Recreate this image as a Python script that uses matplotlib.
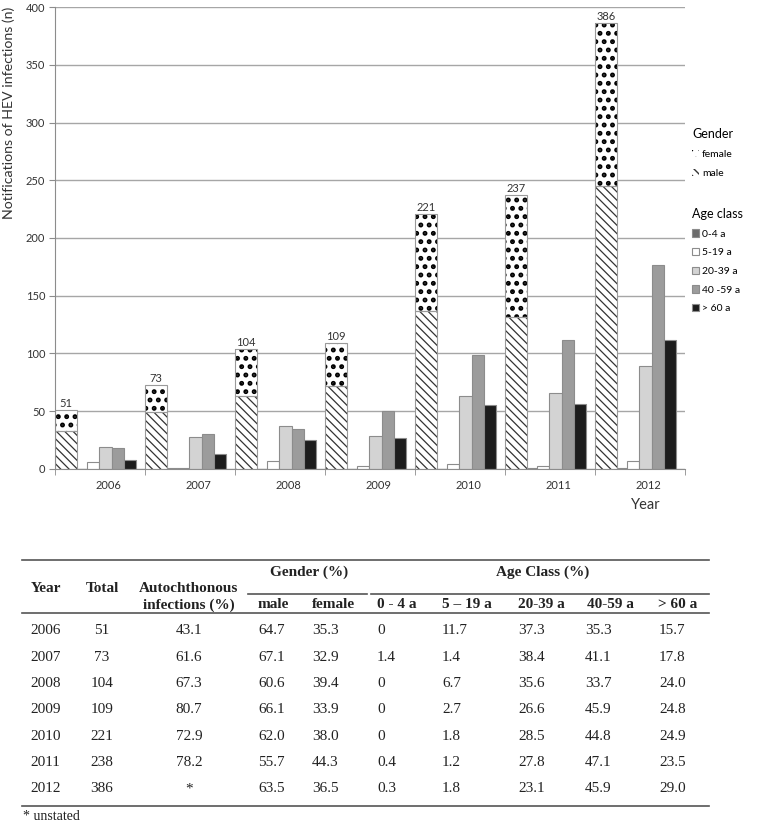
import numpy as np
import matplotlib.pyplot as plt

plt.rcParams['font.family'] = ['Lato', 'DejaVu Sans']

# chart data
years = ['2006', '2007', '2008', '2009', '2010', '2011', '2012']
male = [33, 49, 63, 72, 137, 132, 245]
female = [18, 24, 41, 37, 84, 105, 141]
age_labels = ['0-4 a', '5-19 a', '20-39 a', '40 -59 a', '> 60 a']
age_0_4 = [0, 1, 0, 0, 0, 1, 1]
age_5_19 = [6, 1, 7, 3, 4, 3, 7]
age_20_39 = [19, 28, 37, 29, 63, 66, 89]
age_40_59 = [18, 30, 35, 50, 99, 112, 177]
age_60 = [8, 13, 25, 27, 55, 56, 112]
age_colors = ['#6b6b6b', '#ffffff', '#d3d3d3', '#9c9c9c', '#1c1c1c']

# table data
tab_total = ['51', '73', '104', '109', '221', '238', '386']
tab_auto = ['43.1', '61.6', '67.3', '80.7', '72.9', '78.2', '*']
tab_male = ['64.7', '67.1', '60.6', '66.1', '62.0', '55.7', '63.5']
tab_female = ['35.3', '32.9', '39.4', '33.9', '38.0', '44.3', '36.5']
tab_a04 = ['0', '1.4', '0', '0', '0', '0.4', '0.3']
tab_a519 = ['11.7', '1.4', '6.7', '2.7', '1.8', '1.2', '1.8']
tab_a2039 = ['37.3', '38.4', '35.6', '26.6', '28.5', '27.8', '23.1']
tab_a4059 = ['35.3', '41.1', '33.7', '45.9', '44.8', '47.1', '45.9']
tab_a60 = ['15.7', '17.8', '24.0', '24.8', '24.9', '23.5', '29.0']

W, H = 757, 835
fig = plt.figure(figsize=(W / 100, H / 100), dpi=100)
ax = fig.add_axes([55 / W, 1 - 469 / H, 630 / W, 462 / H])
x = np.arange(len(years))

ax.set_xlim(0, 7)
ax.set_ylim(0, 400)
ax.set_yticks(range(0, 401, 50))
ax.grid(axis='y', color='#a6a6a6', lw=1)
ax.set_axisbelow(True)

# age class bars
age_series = [age_0_4, age_5_19, age_20_39, age_40_59, age_60]
age_bars = []
for k, vals in enumerate(age_series):
    b = ax.bar(x + 0.223 + k * 0.135, vals, width=0.135, align='edge',
               color=age_colors[k], edgecolor='#8c8c8c', lw=0.8,
               label=age_labels[k])
    age_bars.append(b)

# gender stacked bar (hatch drawn first, then grey outline)
with plt.rc_context({'hatch.linewidth': 0.9}):
    hm = ax.bar(x, male, 0.24, align='edge', color='white', edgecolor='#333333',
                lw=0, hatch='\\\\\\\\', label='male')
with plt.rc_context({'hatch.linewidth': 2.3}):
    hf = ax.bar(x, female, 0.24, bottom=male, align='edge', color='white',
                edgecolor='black', lw=0, hatch='..', label='female')
ax.bar(x, male, 0.24, align='edge', fill=False, edgecolor='#9a9a9a', lw=0.8)
ax.bar(x, female, 0.24, bottom=male, align='edge', fill=False,
       edgecolor='#9a9a9a', lw=0.8)

totals = np.array(male) + np.array(female)
for xi, t in zip(x, totals):
    ax.text(xi + 0.12, t + 1, str(t), ha='center', va='bottom',
            fontsize=8, color='#333333')

ax.set_xticks(x + 0.594)
ax.set_xticklabels(years)
ax.set_xticks(np.arange(8), minor=True)
ax.tick_params(axis='x', which='major', length=0, pad=8, labelsize=8,
               labelcolor='#333333')
ax.tick_params(axis='x', which='minor', length=4, color='#8c8c8c')
ax.tick_params(axis='y', length=4, color='#8c8c8c', labelsize=8, pad=3,
               labelcolor='#333333')
for s in ['top', 'right']:
    ax.spines[s].set_visible(False)
for s in ['left', 'bottom']:
    ax.spines[s].set_color('#8c8c8c')

ax.set_ylabel('Notifications of HEV infections (n)', fontsize=10.2,
              color='#333333', loc='top', labelpad=8)
ax.set_xlabel('Year', fontsize=10.5, color='#333333')
ax.xaxis.set_label_coords(0.938, -0.062)

leg1 = ax.legend(handles=[hf, hm], labels=['female', 'male'], title='Gender',
                 loc='upper left', bbox_to_anchor=(692 / W, 1 - 128 / H),
                 bbox_transform=fig.transFigure, frameon=False, fontsize=7.5,
                 title_fontsize=9, alignment='left', handlelength=0.7,
                 handleheight=0.7, handletextpad=0.25, labelspacing=0.95,
                 borderpad=0, borderaxespad=0)
ax.add_artist(leg1)
ax.legend(handles=age_bars, labels=age_labels, title='Age class',
          loc='upper left', bbox_to_anchor=(692 / W, 1 - 208 / H),
          bbox_transform=fig.transFigure, frameon=False, fontsize=7.5,
          title_fontsize=9, alignment='left', handlelength=0.7,
          handleheight=0.7, handletextpad=0.25, labelspacing=0.9,
          borderpad=0, borderaxespad=0)

# table below the chart, drawn in pixel coordinates
tx = fig.add_axes([0, 0, 1, 1])
tx.set_xlim(0, W)
tx.set_ylim(H, 0)
tx.axis('off')
serif = 'Liberation Serif'
fs = 11
rule = dict(color='#555555', lw=1.2)
tx.plot([22, 709], [560, 560], **rule)
tx.plot([248, 367], [594, 594], **rule)
tx.plot([371, 709], [594, 594], **rule)
tx.plot([22, 709], [613, 613], **rule)
tx.plot([22, 709], [806, 806], **rule)

hdr = dict(family=serif, fontsize=fs, fontweight='bold', color='#222222', va='center')
tx.text(31, 588, 'Year', ha='left', **hdr)
tx.text(102, 588, 'Total', ha='center', **hdr)
tx.text(189, 588, 'Autochthonous', ha='center', **hdr)
tx.text(189, 605, 'infections (%)', ha='center', **hdr)
tx.text(309, 572, 'Gender (%)', ha='center', **hdr)
tx.text(543, 572, 'Age Class (%)', ha='center', **hdr)
sub_x = [258, 312, 377, 442, 518, 587, 658]
sub_lab = ['male', 'female', '0 - 4 a', '5 \u2013 19 a', '20-39 a', '40-59 a', '> 60 a']
for sx, sl in zip(sub_x, sub_lab):
    tx.text(sx, 605, sl, ha='left', **hdr)

cell = dict(family=serif, fontsize=fs, color='#222222', va='center')
left_cols = [(258, tab_male), (312, tab_female), (377, tab_a04), (442, tab_a519),
             (518, tab_a2039), (585, tab_a4059), (659, tab_a60)]
for i, yr in enumerate(years):
    yy = 631 + i * 26.3
    tx.text(30, yy, yr, ha='left', **cell)
    tx.text(102, yy, tab_total[i], ha='center', **cell)
    tx.text(189, yy, tab_auto[i], ha='center', **cell)
    for cx, col in left_cols:
        tx.text(cx, yy, col[i], ha='left', **cell)
tx.text(23, 817, '* unstated', ha='left', family=serif, fontsize=10,
        color='#222222', va='center')

fig.savefig('out.png', dpi=100)
